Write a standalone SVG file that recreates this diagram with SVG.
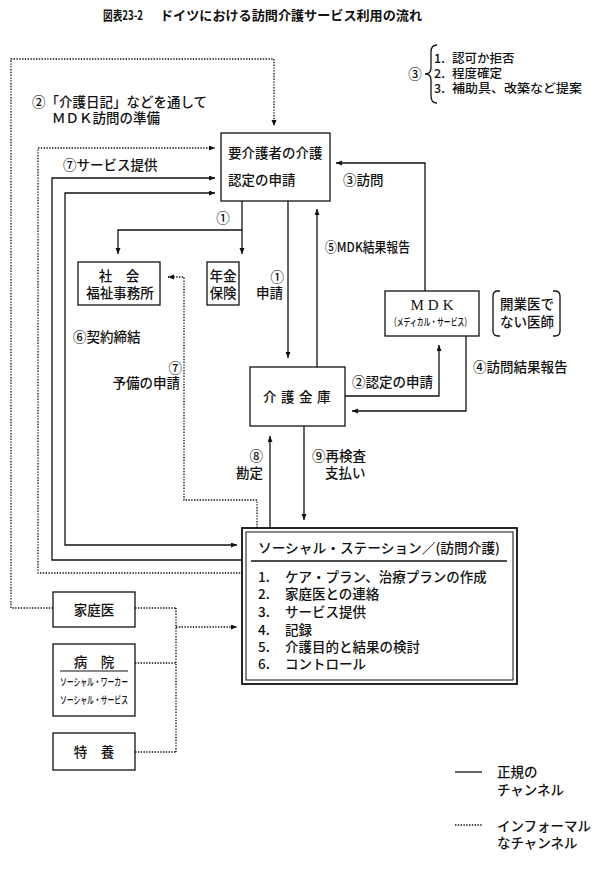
<svg xmlns="http://www.w3.org/2000/svg" width="600" height="879" viewBox="0 0 600 879">
<style>
text{font-family:"Noto Sans CJK JP","Noto Sans CJK SC",sans-serif;font-size:13.5px;font-weight:500;fill:#111}
.t{font-size:13px;font-weight:bold}
.s{font-size:12.5px}
.sm{font-size:10.5px}
.mid{text-anchor:middle}
.end{text-anchor:end}
.box{fill:#fff;stroke:#111;stroke-width:1.3}
.ln{fill:none;stroke:#111;stroke-width:1.3}
.dt{fill:none;stroke:#111;stroke-width:1.3;stroke-dasharray:1.4 1.4}
.ser{font-family:"Liberation Serif",serif}
</style>
<defs>
<marker id="ah" markerUnits="userSpaceOnUse" markerWidth="7" markerHeight="6" refX="6" refY="2.5" orient="auto-start-reverse">
<path d="M0,0 L6,2.5 L0,5 z" fill="#111"/>
</marker>
</defs>
<rect width="600" height="879" fill="#fff"/>
<g id="title">
<text class="t" x="103" y="20" textLength="40" lengthAdjust="spacingAndGlyphs">図表23-2</text>
<text class="t" x="160" y="20" textLength="262" lengthAdjust="spacingAndGlyphs">ドイツにおける訪問介護サービス利用の流れ</text>
</g>
<g id="note3">
<text class="mid" x="415" y="79">③</text>
<path class="ln" d="M437,45 Q431,45 431,52 V68 Q431,74 425,74 Q431,74 431,80 V96 Q431,103 437,103"/>
<text class="s" x="434" y="63">1.</text><text class="s" x="452" y="63">認可か拒否</text>
<text class="s" x="434" y="78">2.</text><text class="s" x="452" y="78">程度確定</text>
<text class="s" x="434" y="93">3.</text><text class="s" x="452" y="93" textLength="130" lengthAdjust="spacingAndGlyphs">補助具、改築など提案</text>
</g>
<g id="connectors">
<path class="dt" d="M53,608 H11 V59 H274 V126" marker-end="url(#ah)"/>
<path class="dt" d="M243,573 H38 V148 H215" marker-end="url(#ah)"/>
<path class="ln" d="M242,560 H52 V178 H215" marker-end="url(#ah)"/>
<path class="ln" d="M215,193 H65 V545 H237" marker-start="url(#ah)" marker-end="url(#ah)"/>
<path class="ln" d="M242,201 V254" marker-end="url(#ah)"/>
<path class="ln" d="M242,230 H118 V254" marker-end="url(#ah)"/>
<path class="ln" d="M288,201 V358" marker-end="url(#ah)"/>
<path class="ln" d="M317,367 V209" marker-end="url(#ah)"/>
<path class="ln" d="M425,291 V163 H336" marker-end="url(#ah)"/>
<path class="ln" d="M345,396 H439 V345" marker-end="url(#ah)"/>
<path class="ln" d="M466,336 V411 H352" marker-end="url(#ah)"/>
<path class="ln" d="M304,426 V520" marker-end="url(#ah)"/>
<path class="ln" d="M270,528 V436" marker-end="url(#ah)"/>
<path class="dt" d="M257,528 V500 H184 V277 H168" marker-end="url(#ah)"/>
<path class="dt" d="M135,608 H176 M135,663 H176 M135,752 H176 M176,608 V752"/>
<path class="dt" d="M176,627 H237" marker-end="url(#ah)"/>
</g>
<g id="labels">
<text x="32" y="107">②「介護日記」などを通して</text>
<text x="52" y="123">ＭＤＫ訪問の準備</text>
<text x="63" y="170">⑦サービス提供</text>
<text class="mid" x="223" y="223">①</text>
<text class="end" x="284" y="282">①</text>
<text class="end" x="283" y="298">申請</text>
<text x="325" y="252" textLength="85" lengthAdjust="spacingAndGlyphs">⑤MDK結果報告</text>
<text x="343" y="185">③訪問</text>
<text x="352" y="387">②認定の申請</text>
<text x="473" y="372">④訪問結果報告</text>
<text x="73" y="342">⑥契約締結</text>
<text class="end" x="182" y="373">⑦</text>
<text class="end" x="180" y="388">予備の申請</text>
<text class="end" x="263" y="461">⑧</text>
<text class="end" x="263" y="478">勘定</text>
<text x="312" y="461">⑨再検査</text>
<text x="325" y="478">支払い</text>
</g>
<g id="youkaigo">
<rect class="box" x="221" y="133" width="109" height="68"/>
<text x="228" y="158">要介護者の介護</text>
<text x="228" y="185">認定の申請</text>
</g>
<g id="shakai">
<rect class="box" x="78" y="262" width="82" height="43"/>
<text class="mid" x="119" y="281">社　会</text>
<text class="mid" x="120" y="298">福祉事務所</text>
</g>
<g id="nenkin">
<rect class="box" x="207" y="262" width="32" height="43"/>
<text class="mid" x="223" y="281">年金</text>
<text class="mid" x="223" y="298">保険</text>
</g>
<g id="mdk">
<rect class="box" x="385" y="291" width="94" height="45"/>
<text class="mid ser" x="434" y="310" style="font-size:15px;letter-spacing:4px">MDK</text>
<text class="sm" x="390" y="326" textLength="81" lengthAdjust="spacingAndGlyphs">（メディカル・サービス）</text>
</g>
<g id="kaigyoui">
<path class="ln" d="M500,291 H498 Q493,291 493,296 V331 Q493,336 498,336 H500 M553,291 H555 Q560,291 560,296 V331 Q560,336 555,336 H553"/>
<text class="mid" x="527" y="309">開業医で</text>
<text class="mid" x="527" y="327">ない医師</text>
</g>
<g id="kinko">
<rect class="box" x="250" y="367" width="95" height="59"/>
<text x="263" y="402" style="letter-spacing:4.5px">介護金庫</text>
</g>
<g id="station">
<rect x="242" y="528" width="275" height="156" fill="#fff" stroke="#111" stroke-width="1.8"/>
<rect x="246" y="532" width="267" height="148" fill="none" stroke="#111" stroke-width="1"/>
<text x="258" y="553" textLength="242" lengthAdjust="spacingAndGlyphs">ソーシャル・ステーション／(訪問介護)</text>
<line x1="251" y1="561" x2="507" y2="561" stroke="#111" stroke-width="1.5"/>
<text x="258" y="582">1.</text><text x="285" y="582">ケア・プラン、治療プランの作成</text>
<text x="258" y="599">2.</text><text x="285" y="599">家庭医との連絡</text>
<text x="258" y="617">3.</text><text x="285" y="617">サービス提供</text>
<text x="258" y="635">4.</text><text x="285" y="635">記録</text>
<text x="258" y="652">5.</text><text x="285" y="652">介護目的と結果の検討</text>
<text x="258" y="669">6.</text><text x="285" y="669">コントロール</text>
</g>
<g id="kateii">
<rect class="box" x="53" y="592" width="82" height="35"/>
<text class="mid" x="94" y="615">家庭医</text>
</g>
<g id="byouin">
<rect class="box" x="53" y="644" width="82" height="72"/>
<text class="mid" x="94" y="667">病　院</text>
<line x1="60" y1="671" x2="128" y2="671" stroke="#111" stroke-width="1.2"/>
<text class="sm" x="60" y="686" textLength="68" lengthAdjust="spacingAndGlyphs">ソーシャル・ワーカー</text>
<text class="sm" x="60" y="704" textLength="68" lengthAdjust="spacingAndGlyphs">ソーシャル・サービス</text>
</g>
<g id="tokuyou">
<rect class="box" x="53" y="733" width="82" height="37"/>
<text class="mid" x="94" y="757">特　養</text>
</g>
<g id="legend">
<line x1="455" y1="772" x2="482" y2="772" stroke="#111" stroke-width="1.3"/>
<text x="497" y="777">正規の</text>
<text x="497" y="795">チャンネル</text>
<line x1="455" y1="825" x2="482" y2="825" class="dt"/>
<text x="497" y="831">インフォーマル</text>
<text x="497" y="848">なチャンネル</text>
</g>
</svg>
